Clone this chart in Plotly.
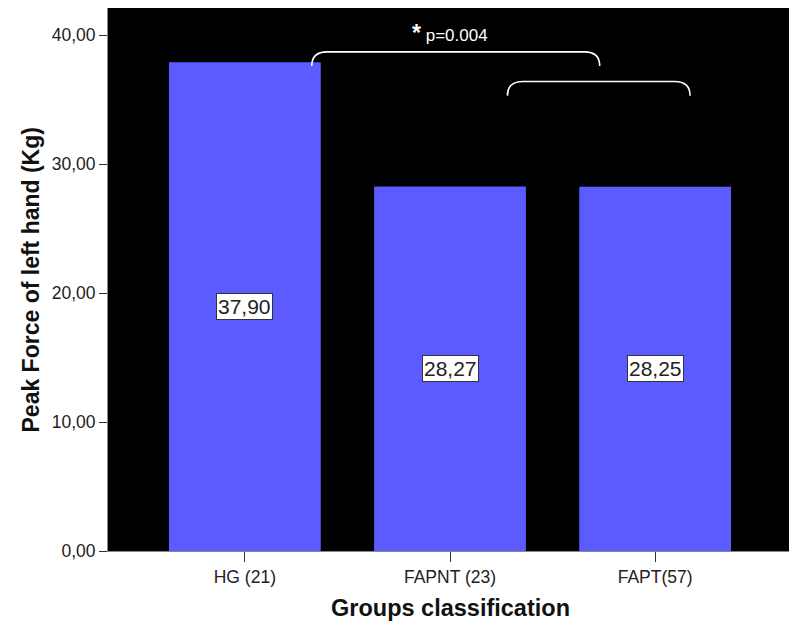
import plotly.graph_objects as go

categories = ["HG (21)", "FAPNT (23)", "FAPT(57)"]
values = [37.90, 28.27, 28.25]
value_labels = ["37,90", "28,27", "28,25"]
y_ticks = [0, 10, 20, 30, 40]
y_tick_labels = ["0,00", "10,00", "20,00", "30,00", "40,00"]

# comparison brackets: (x start, x end, top y, end y)
brackets = [(0.326, 1.73, 38.7, 37.6), (1.28, 2.17, 36.4, 35.3)]
sig_text = "p=0.004"
sig_pos = (1.0, 40.15)

xs = list(range(len(categories)))
bar_color = "#5b5bff"
FONT = "Liberation Sans, Arial, sans-serif"

fig = go.Figure()
fig.add_trace(go.Bar(
    x=xs, y=values, width=0.74,
    marker=dict(color=bar_color, line=dict(width=0)),
    hoverinfo="skip",
))

for x, v, t in zip(xs, values, value_labels):
    fig.add_annotation(
        x=x, y=v / 2, text=t, showarrow=False,
        font=dict(family=FONT, size=21, color="#222"),
        bgcolor="white", bordercolor="#333", borderwidth=1, borderpad=1,
    )

shapes = []
for x0, x1, yt, ye in brackets:
    dx = 0.075
    path = (f"M {x0},{ye} Q {x0},{yt} {x0+dx},{yt} L {x1-dx},{yt} "
            f"Q {x1},{yt} {x1},{ye}")
    shapes.append(dict(type="path", path=path, xref="x", yref="y",
                       line=dict(color="white", width=1.6)))

fig.add_annotation(
    x=sig_pos[0], y=sig_pos[1], xref="x", yref="y", showarrow=False,
    text="<span style='font-size:23px'><b>*</b></span> " + sig_text,
    font=dict(family=FONT, size=17, color="white"),
)

# axis titles
fig.add_annotation(
    x=-0.1126, y=0.5, xref="paper", yref="paper", showarrow=False,
    xanchor="center", yanchor="middle",
    text="<b>Peak Force of left hand (Kg)</b>", textangle=-90,
    font=dict(family=FONT, size=23, color="#111"),
)
fig.add_annotation(
    x=0.5, y=-0.105, xref="paper", yref="paper", showarrow=False,
    xanchor="center", yanchor="middle",
    text="<b>Groups classification</b>",
    font=dict(family=FONT, size=23.5, color="#111"),
)

# page body has an 8px default margin, so the figure is 8px smaller
fig.update_layout(
    width=789, height=618,
    margin=dict(l=100, r=5, t=0, b=75),
    paper_bgcolor="white", plot_bgcolor="black",
    showlegend=False, shapes=shapes,
    xaxis=dict(
        range=[-0.667, 2.667], tickvals=xs, ticktext=categories,
        ticks="outside", ticklen=10, tickcolor="#333", tickwidth=1,
        showgrid=False, zeroline=False, automargin=False,
        showline=True, linecolor="#888", linewidth=1, mirror=True,
        tickfont=dict(family=FONT, size=17.5, color="#222"),
    ),
    yaxis=dict(
        range=[0, 42.1], tickvals=y_ticks, ticktext=y_tick_labels,
        ticks="outside", ticklen=8, tickcolor="#333", tickwidth=1,
        showgrid=False, zeroline=False, automargin=False,
        showline=True, linecolor="#888", linewidth=1, mirror=True,
        tickfont=dict(family=FONT, size=17.5, color="#222"),
    ),
)

fig.write_html("out.html")
